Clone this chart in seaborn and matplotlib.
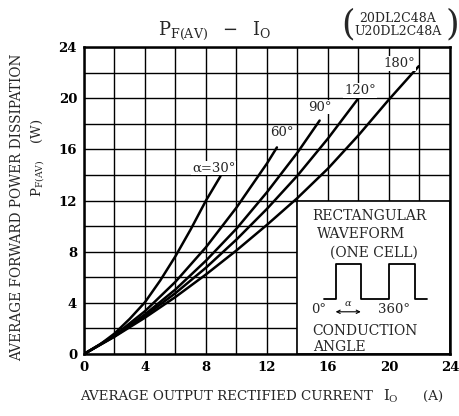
import numpy as np
import pandas as pd
import matplotlib
matplotlib.use("Agg")
import matplotlib.pyplot as plt
import seaborn as sns
from matplotlib.patches import Rectangle

# curves: IO (A) vs PF(AV) (W)
io_30 = [0, 1, 2, 3, 4, 5, 6, 7, 8, 8.95]
pf_30 = [0, 0.7, 1.6, 2.75, 4.05, 5.75, 7.65, 9.75, 12.0, 13.9]

io_60 = [0, 2, 4, 6, 8, 10, 12, 12.65]
pf_60 = [0, 1.45, 3.35, 5.65, 8.35, 11.45, 14.9, 16.15]

io_90 = [0, 2, 4, 6, 8, 10, 12, 14, 15.45]
pf_90 = [0, 1.4, 3.1, 5.05, 7.3, 9.8, 12.65, 15.75, 18.25]

io_120 = [0, 2, 4, 6, 8, 10, 12, 14, 16, 18]
pf_120 = [0, 1.38, 2.98, 4.76, 6.75, 8.95, 11.35, 13.95, 16.85, 20.0]

io_180 = [0, 2, 4, 6, 8, 10, 12, 14, 16, 18, 20, 21.95]
pf_180 = [0, 1.35, 2.84, 4.46, 6.22, 8.1, 10.1, 12.2, 14.5, 17.1, 19.9, 22.5]

angles = ["30", "60", "90", "120", "180"]
angle_labels = ["α=30°", "60°", "90°", "120°", "180°"]
label_pos = [(8.5, 14.55), (12.95, 17.3), (15.45, 19.3), (18.1, 20.6), (20.7, 22.7)]

# rectangular waveform sketch in the inset
wave_x = [15.75, 16.5, 16.5, 18.15, 18.15, 20.0, 20.0, 21.7, 21.7, 22.5]
wave_y = [4.27, 4.27, 7.0, 7.0, 4.27, 4.27, 7.0, 7.0, 4.27, 4.27]

frames = []
for a, xs, ys in zip(angles, [io_30, io_60, io_90, io_120, io_180],
                     [pf_30, pf_60, pf_90, pf_120, pf_180]):
    frames.append(pd.DataFrame({"io": xs, "pf": ys, "angle": a}))
df = pd.concat(frames, ignore_index=True)

sns.set_style("white")
plt.rcParams["font.family"] = ["DejaVu Serif"]
plt.rcParams["mathtext.fontset"] = "dejavuserif"

fig = plt.figure(figsize=(4.6, 4.16), dpi=100)
ax = fig.add_axes([84 / 460, 1 - 354 / 416, 366 / 460, 307 / 416])

sns.lineplot(data=df, x="io", y="pf", units="angle", estimator=None,
             color="black", lw=1.8, sort=False, ax=ax, zorder=3)

ax.set_xlim(0, 24)
ax.set_ylim(0, 24)
ax.set_xticks(np.arange(0, 25, 4))
ax.set_yticks(np.arange(0, 25, 4))
ax.set_xticks(np.arange(0, 25, 2), minor=True)
ax.set_yticks(np.arange(0, 25, 2), minor=True)
ax.set_axisbelow(True)
ax.grid(which="both", color="black", lw=1.0)
for s in ax.spines.values():
    s.set_color("black")
    s.set_linewidth(1.8)
ax.tick_params(which="both", direction="out", length=3, width=1.2, colors="black",
               labelsize=9.5, pad=2)
for lab in ax.get_xticklabels() + ax.get_yticklabels():
    lab.set_fontweight("bold")
ax.set_xlabel("")
ax.set_ylabel("")

# inset area covering the grid
ax.add_patch(Rectangle((14, 0), 10, 12, facecolor="white", edgecolor="black",
                       lw=1.2, zorder=1))

for lab, (x, y) in zip(angle_labels, label_pos):
    ax.text(x, y, lab, ha="center", va="center", fontsize=9.5, zorder=4,
            bbox=dict(facecolor="white", edgecolor="none", pad=0.5))

ax.text(15.0, 10.8, "RECTANGULAR", ha="left", va="center", fontsize=10, zorder=4)
ax.text(15.25, 9.4, "WAVEFORM", ha="left", va="center", fontsize=10, zorder=4)
ax.text(16.1, 7.95, "(ONE CELL)", ha="left", va="center", fontsize=10, zorder=4)
ax.plot(wave_x, wave_y, color="black", lw=1.3, zorder=4)
ax.text(15.4, 3.45, "0°", ha="center", va="center", fontsize=9.5, zorder=4)
ax.text(20.3, 3.45, "360°", ha="center", va="center", fontsize=9.5, zorder=4)
ax.annotate("", xy=(16.5, 3.3), xytext=(18.15, 3.3),
            arrowprops=dict(arrowstyle="<->", lw=0.8, color="black",
                            shrinkA=0, shrinkB=0, mutation_scale=6), zorder=4)
ax.text(17.3, 3.95, "α", ha="center", va="center", fontsize=7, style="italic", zorder=4)
ax.text(15.0, 1.8, "CONDUCTION", ha="left", va="center", fontsize=10, zorder=4)
ax.text(15.0, 0.55, "ANGLE", ha="left", va="center", fontsize=10, zorder=4)

# titles and axis labels
fig.text(215 / 460, 1 - 31 / 416, r"$\mathregular{P_{F(AV)}\ \ -\ \ I_O}$",
         ha="center", va="center", fontsize=13)
fig.text(398 / 460, 1 - 25 / 416, "20DL2C48A\nU20DL2C48A", ha="center",
         va="center", fontsize=9, linespacing=1.0)
fig.text(348 / 460, 1 - 24 / 416, "(", ha="center", va="center", fontsize=25,
         fontweight="light")
fig.text(452 / 460, 1 - 24 / 416, ")", ha="center", va="center", fontsize=25,
         fontweight="light")

fig.text(80 / 460, 1 - 396 / 416, "AVERAGE OUTPUT RECTIFIED CURRENT", ha="left",
         va="center", fontsize=9.6)
fig.text(391 / 460, 1 - 396 / 416, r"$\mathregular{I_O}$", ha="center",
         va="center", fontsize=10.5)
fig.text(433 / 460, 1 - 396 / 416, "(A)", ha="center", va="center", fontsize=9.6)

fig.text(17 / 460, 1 - 207 / 416, "AVERAGE FORWARD POWER DISSIPATION",
         ha="center", va="center", rotation=90, fontsize=9.8)
fig.text(38 / 460, 1 - 158 / 416, r"$\mathregular{P_{F(AV)}}$    (W)",
         ha="center", va="center", rotation=90, fontsize=9.5)

fig.savefig("out.png", dpi=100)
